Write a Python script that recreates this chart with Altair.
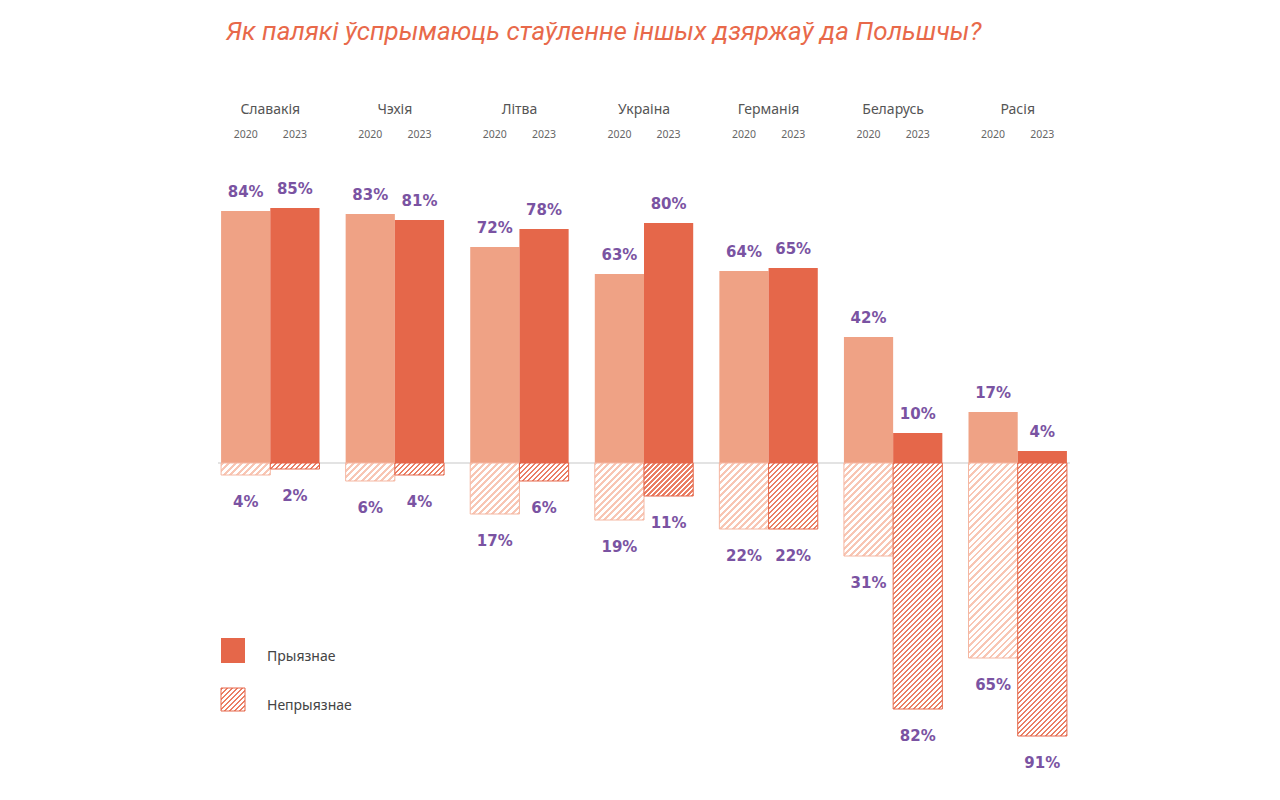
import altair as alt
import pandas as pd

# ---------------- data ----------------
countries = ["Славакія", "Чэхія", "Літва", "Украіна", "Германія", "Беларусь", "Расія"]
years = ["2020", "2023"]
fav_2020 = [84, 83, 72, 63, 64, 42, 17]
fav_2023 = [85, 81, 78, 80, 65, 10, 4]
unf_2020 = [4, 6, 17, 19, 22, 31, 65]
unf_2023 = [2, 4, 6, 11, 22, 82, 91]
legend_labels = ["Прыязнае", "Непрыязнае"]
title_text = "Як палякі ўспрымаюць стаўленне іншых дзяржаў да Польшчы?"

# ---------------- layout / style ----------------
W, H = 872, 720
Y_DOMAIN = [-110, 130]
PX_PER_UNIT = H / (Y_DOMAIN[1] - Y_DOMAIN[0])
PAD_IN, PAD_OUT = 0.21, 0.105
step = W / (len(countries) - PAD_IN + 2 * PAD_OUT)
bar_w = step * (1 - PAD_IN) / 2

FAV_COLORS = {"2020": "#EFA285", "2023": "#E5674A"}
HATCH = {  # stripe color, period (px along x+y), stripe fraction, outline
    "2020": ("#F8C6B4", 6.5, 0.45, "#F5B7A2"),
    "2023": ("#EA7E64", 5.0, 0.42, "#E5674A"),
}
LABEL_COLOR = "#7A53A2"
LABEL_FONT = "DejaVu Sans"
TEXT_FONT = "Noto Sans"


def hatch_gradient(h, w, period, frac, color, bg="#ffffff"):
    """Linear gradient (bbox units) drawing 45deg '/' stripes on a w x h rect."""
    h = max(h, 0.5)
    span = w + h
    L = w + h * h / w
    a = span / L
    stops = []
    k = 0
    while k * period < span:
        o1 = (k * period) / span
        o2 = min((k * period + frac * period) / span, 1)
        o3 = min(((k + 1) * period) / span, 1)
        stops += [
            {"offset": o1, "color": color},
            {"offset": o2, "color": color},
            {"offset": o2, "color": bg},
            {"offset": o3, "color": bg},
        ]
        k += 1
    return {"gradient": "linear", "x1": 0, "y1": 0, "x2": a, "y2": a * h / w, "stops": stops}


rows = []
for i, c in enumerate(countries):
    for y, fav, unf in (("2020", fav_2020[i], unf_2020[i]), ("2023", fav_2023[i], unf_2023[i])):
        rows.append({"country": c, "year": y, "fav": fav, "unf": unf,
                     "unf_neg": -unf, "fav_label": f"{fav}%", "unf_label": f"{unf}%"})
df = pd.DataFrame(rows)

xenc = alt.X("country:N", sort=countries,
             scale=alt.Scale(paddingInner=PAD_IN, paddingOuter=PAD_OUT), axis=None)
xoff = alt.XOffset("year:N", sort=years, scale=alt.Scale(paddingInner=0, paddingOuter=0))
yscale = alt.Scale(domain=Y_DOMAIN, nice=False, zero=False)

base = alt.Chart(df)

zero_line = alt.Chart(pd.DataFrame({"z": [0]})).mark_rule(color="#DADADA", strokeWidth=1.5).encode(
    y=alt.Y("z:Q", scale=yscale, axis=None), x=alt.value(10), x2=alt.value(W - 10))

fav_bars = base.mark_bar(strokeWidth=0).encode(
    x=xenc, xOffset=xoff,
    y=alt.Y("fav:Q", scale=yscale, axis=None), y2=alt.datum(0),
    color=alt.Color("year:N", scale=alt.Scale(domain=years, range=[FAV_COLORS[y] for y in years]),
                    legend=None),
)

hatch_layers = []
for i, c in enumerate(countries):
    for y, vals in (("2020", unf_2020), ("2023", unf_2023)):
        col, per, frac, outline = HATCH[y]
        grad = hatch_gradient(vals[i] * PX_PER_UNIT, bar_w, per, frac, col)
        hatch_layers.append(
            base.transform_filter((alt.datum.country == c) & (alt.datum.year == y))
            .mark_bar(fill=grad, stroke=outline, strokeWidth=1)
            .encode(x=xenc, xOffset=xoff,
                    y=alt.Y("unf_neg:Q", scale=yscale, axis=None), y2=alt.datum(0))
        )

fav_text = base.mark_text(dy=-19, baseline="middle", font=LABEL_FONT, fontWeight="bold",
                          fontSize=15, color=LABEL_COLOR).encode(
    x=xenc, xOffset=xoff, y=alt.Y("fav:Q", scale=yscale, axis=None), text="fav_label:N")

unf_text = base.mark_text(dy=27, baseline="middle", font=LABEL_FONT, fontWeight="bold",
                          fontSize=15, color=LABEL_COLOR).encode(
    x=xenc, xOffset=xoff, y=alt.Y("unf_neg:Q", scale=yscale, axis=None), text="unf_label:N")

country_text = alt.Chart(pd.DataFrame({"country": countries})).mark_text(
    baseline="middle", font=TEXT_FONT, fontSize=14, color="#555555").encode(
    x=xenc, y=alt.value(37), text="country:N")

year_text = base.mark_text(baseline="middle", font=TEXT_FONT, fontSize=10.5, color="#666666").encode(
    x=xenc, xOffset=xoff, y=alt.value(62), text="year:N")

title = alt.Chart(pd.DataFrame({"t": [title_text]})).mark_text(
    align="left", baseline="alphabetic", font="Roboto", fontStyle="italic", fontSize=26,
    color="#E8694A").encode(x=alt.value(18), y=alt.value(-33), text="t:N")

# legend
leg_solid = alt.Chart(pd.DataFrame({"l": [legend_labels[0]]})).mark_rect(
    fill=FAV_COLORS["2023"]).encode(
    x=alt.value(13), x2=alt.value(37), y=alt.value(565), y2=alt.value(590))
leg_hatch = alt.Chart(pd.DataFrame({"l": [legend_labels[1]]})).mark_rect(
    fill=hatch_gradient(23, 24, HATCH["2023"][1], HATCH["2023"][2], HATCH["2023"][0]),
    stroke=HATCH["2023"][3], strokeWidth=1).encode(
    x=alt.value(13), x2=alt.value(37), y=alt.value(615), y2=alt.value(638))
leg_text = alt.Chart(pd.DataFrame({"l": legend_labels, "yy": [584, 633]})).mark_text(
    align="left", baseline="middle", font=TEXT_FONT, fontSize=14, color="#444444").encode(
    x=alt.value(59), y=alt.Y("yy:Q", scale=None), text="l:N")

chart = alt.layer(
    zero_line, fav_bars, *hatch_layers, fav_text, unf_text, country_text, year_text,
    title, leg_solid, leg_hatch, leg_text,
).properties(
    width=W, height=H, autosize="none",
    padding={"left": 200, "top": 65, "right": 0, "bottom": 0},
).configure_view(stroke=None)

chart.save("out.html", embed_options={"renderer": "svg", "actions": False})
